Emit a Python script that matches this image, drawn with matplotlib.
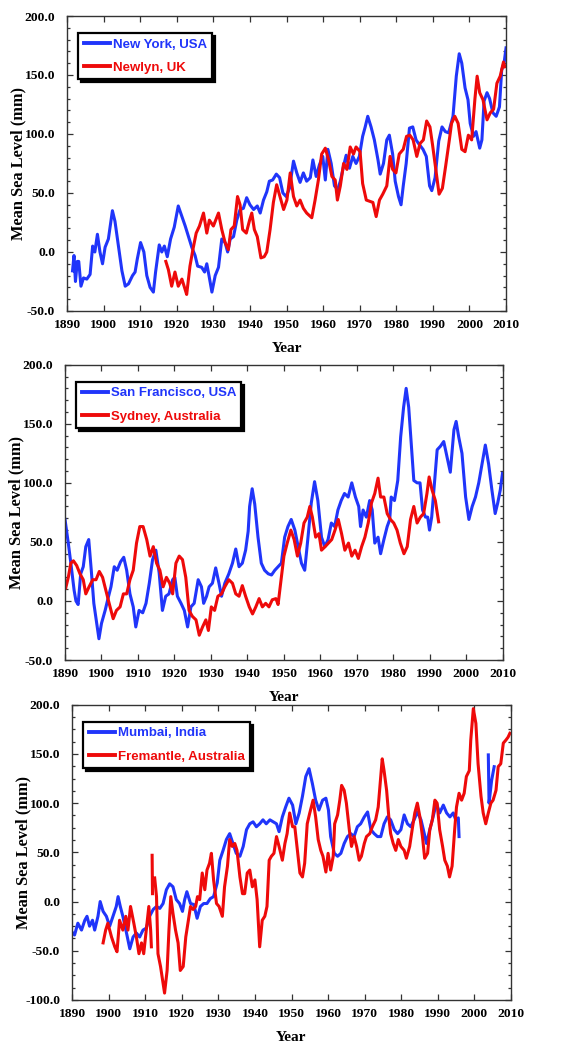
import numpy as np
import matplotlib
matplotlib.use("Agg")
import matplotlib.pyplot as plt
from matplotlib.ticker import MultipleLocator, FormatStrFormatter

BLUE = "#2035fa"
RED = "#ee0a0a"

# --- New York, USA / Newlyn, UK ---
ny_years = [1891.5, 1891.9, 1892.3, 1892.8, 1893.2, 1893.8, 1894.5, 1895.4, 1896.3, 1897.0,
            1897.6, 1898.3, 1899.0, 1899.7, 1900.4, 1901.3, 1902.4, 1903.1, 1904.0, 1905.0,
            1905.9, 1906.8, 1907.9, 1908.6, 1909.2, 1910.1, 1911.0, 1911.8, 1912.7, 1913.6,
            1914.2, 1915.2, 1915.9, 1916.6, 1917.4, 1918.3, 1919.3, 1920.4, 1921.4, 1922.3,
            1923.2, 1924.1, 1925.0, 1925.7, 1926.8, 1927.6, 1928.2, 1928.8, 1929.6, 1930.5,
            1931.4, 1932.3, 1933.2, 1933.9, 1934.6, 1935.5, 1936.4, 1937.3, 1938.2, 1939.1,
            1940.0, 1941.0, 1942.0, 1942.8, 1943.7, 1944.6, 1945.3, 1946.2, 1947.2, 1948.1,
            1949.0, 1949.9, 1950.8, 1951.9, 1952.8, 1953.7, 1954.6, 1955.5, 1956.5, 1957.2,
            1958.1, 1959.0, 1959.9, 1960.6, 1961.3, 1962.2, 1963.1, 1964.0, 1964.7, 1965.6,
            1966.3, 1967.2, 1968.1, 1969.0, 1969.9, 1970.8, 1971.5, 1972.2, 1973.1, 1974.0,
            1975.0, 1975.6, 1976.5, 1977.4, 1978.1, 1979.0, 1979.7, 1980.6, 1981.3, 1981.9,
            1982.7, 1983.6, 1984.5, 1985.4, 1986.3, 1987.3, 1988.2, 1989.1, 1989.7, 1990.6,
            1991.6, 1992.5, 1993.4, 1994.3, 1995.5, 1996.4, 1997.2, 1997.9, 1998.8, 1999.6,
            2000.2, 2001.1, 2001.8, 2002.8, 2003.4, 2004.0, 2004.8, 2005.5, 2006.4, 2007.3,
            2008.2, 2008.8, 2009.5, 2010.0]
ny_mm = [-16, -3, -25, -8, -8, -29, -22, -23, -19, 5,
         0, 15, 0, -10, 4, 11, 35, 26, 6, -16,
         -29, -27, -20, -17, -6, 8, 0, -20, -30, -34,
         -17, 6, 0, 5, -4, 11, 21, 39, 30, 22,
         13, 4, -3, -12, -13, -17, -10, -20, -34, -20,
         -13, 11, 8, 0, 11, 13, 27, 36, 37, 46,
         40, 36, 39, 33, 44, 51, 60, 61, 66, 63,
         50, 47, 54, 77, 67, 59, 67, 60, 63, 78,
         64, 74, 81, 61, 87, 75, 56, 53, 60, 73,
         82, 71, 81, 75, 81, 98, 106, 115, 106, 95,
         78, 66, 75, 95, 99, 83, 60, 47, 40, 56,
         75, 105, 106, 95, 91, 87, 81, 56, 52, 63,
         94, 106, 102, 101, 115, 149, 168, 160, 139, 129,
         109, 98, 102, 88, 95, 128, 135, 130, 118, 115,
         123, 154, 161, 173]

newlyn_years = [1917.0, 1917.7, 1918.6, 1919.5, 1920.4, 1921.4, 1922.3, 1922.7, 1923.6, 1924.4,
                1925.3, 1926.2, 1927.3, 1928.2, 1928.9, 1930.0, 1931.4, 1932.3, 1933.2, 1934.1,
                1934.8, 1935.7, 1936.6, 1937.3, 1938.0, 1939.0, 1939.9, 1940.5, 1941.2, 1942.0,
                1943.0, 1943.9, 1944.6, 1945.5, 1946.4, 1947.3, 1948.2, 1949.2, 1950.1, 1951.0,
                1951.9, 1952.8, 1953.7, 1954.6, 1955.5, 1956.9, 1957.8, 1958.7, 1959.6, 1960.6,
                1961.5, 1962.4, 1963.3, 1963.9, 1964.7, 1965.6, 1966.5, 1967.4, 1968.3, 1969.0,
                1970.1, 1970.8, 1971.8, 1972.7, 1973.6, 1974.5, 1975.4, 1976.3, 1977.4, 1978.3,
                1979.0, 1979.9, 1980.8, 1981.9, 1982.8, 1983.7, 1984.6, 1985.6, 1986.5, 1987.4,
                1988.3, 1989.2, 1989.9, 1990.8, 1991.7, 1992.6, 1993.5, 1994.5, 1995.1, 1996.0,
                1996.9, 1997.9, 1998.8, 1999.7, 2000.6, 2001.5, 2002.1, 2002.8, 2003.7, 2004.8,
                2005.7, 2006.6, 2007.5, 2008.4, 2009.3, 2009.7]
newlyn_mm = [-8, -15, -29, -17, -29, -23, -32, -36, -12, 2,
             16, 22, 33, 16, 27, 22, 33, 19, 8, 2,
             19, 22, 47, 40, 19, 16, 27, 33, 19, 13,
             -5, -4, 0, 19, 42, 57, 47, 36, 44, 67,
             47, 39, 44, 37, 33, 29, 44, 61, 83, 88,
             78, 64, 61, 44, 56, 75, 70, 89, 83, 89,
             85, 58, 44, 43, 42, 30, 44, 49, 56, 81,
             70, 67, 83, 87, 98, 99, 95, 81, 92, 95,
             111, 106, 91, 70, 49, 54, 73, 95, 109, 115,
             109, 87, 85, 99, 95, 130, 149, 135, 129, 112,
             118, 121, 143, 149, 161, 157]

# --- San Francisco, USA / Sydney, Australia ---
sf_years = [1890.0, 1890.9, 1891.6, 1892.5, 1893.0, 1893.6, 1894.3, 1895.0, 1895.7, 1896.5,
            1897.2, 1897.9, 1898.7, 1899.3, 1900.0, 1901.0, 1901.7, 1902.6, 1903.5, 1904.3,
            1905.2, 1906.1, 1906.9, 1907.8, 1908.7, 1909.4, 1910.3, 1911.3, 1912.2, 1913.1,
            1914.0, 1914.9, 1915.8, 1916.7, 1917.6, 1918.5, 1919.5, 1920.1, 1920.8, 1921.8,
            1922.7, 1923.6, 1924.5, 1925.4, 1926.5, 1927.4, 1928.0, 1928.8, 1929.5, 1930.4,
            1931.3, 1932.2, 1932.9, 1933.8, 1934.9, 1935.9, 1936.8, 1937.7, 1938.6, 1939.5,
            1940.2, 1940.6, 1941.3, 1942.0, 1942.9, 1943.8, 1944.7, 1945.7, 1946.6, 1947.5,
            1948.4, 1949.3, 1950.2, 1951.1, 1952.0, 1953.0, 1953.9, 1954.8, 1955.7, 1956.6,
            1957.5, 1958.4, 1959.3, 1960.3, 1961.2, 1962.1, 1963.0, 1963.9, 1964.8, 1965.7,
            1966.6, 1967.6, 1968.6, 1969.6, 1970.5, 1971.0, 1971.7, 1972.6, 1973.5, 1974.2,
            1974.9, 1975.8, 1976.5, 1977.4, 1978.3, 1979.0, 1979.4, 1980.3, 1981.2, 1982.0,
            1982.8, 1983.5, 1984.2, 1984.9, 1985.6, 1986.5, 1987.3, 1988.0, 1988.8, 1989.4,
            1989.9, 1990.5, 1991.1, 1992.0, 1992.9, 1993.8, 1994.7, 1995.6, 1996.6, 1997.2,
            1997.9, 1998.8, 1999.8, 2000.7, 2001.6, 2002.5, 2003.4, 2004.3, 2005.2, 2006.1,
            2007.0, 2007.9, 2008.6, 2009.3, 2009.9]
sf_mm = [69, 49, 32, 9, 0, -3, 23, 29, 46, 52,
         26, -2, -19, -32, -19, -8, 1, 12, 29, 26,
         33, 37, 26, 6, -5, -22, -8, -10, -2, 15,
         35, 43, 24, -8, 4, 6, 18, 20, 4, -2,
         -8, -22, -5, -2, 18, 12, -2, 4, 12, 15,
         28, 15, 4, 15, 23, 32, 44, 29, 32, 43,
         59, 80, 95, 82, 54, 32, 26, 23, 22, 26,
         29, 32, 54, 63, 69, 60, 46, 32, 26, 54,
         83, 101, 85, 54, 46, 52, 66, 63, 77, 85,
         91, 88, 100, 88, 80, 63, 77, 71, 85, 77,
         49, 54, 40, 52, 63, 69, 88, 85, 102, 139,
         164, 180, 164, 133, 102, 100, 100, 77, 71, 71,
         60, 71, 94, 128, 131, 135, 122, 109, 145, 152,
         139, 125, 88, 69, 80, 88, 100, 116, 132, 116,
         94, 74, 83, 94, 108]

syd_years = [1890.2, 1890.9, 1891.6, 1892.3, 1893.2, 1894.1, 1895.0, 1895.7, 1896.6, 1897.6,
             1898.5, 1899.4, 1900.3, 1901.2, 1902.1, 1903.2, 1904.1, 1905.1, 1906.0, 1906.9,
             1907.8, 1908.7, 1909.6, 1910.5, 1911.4, 1912.4, 1913.3, 1914.2, 1915.1, 1916.0,
             1916.9, 1917.8, 1918.7, 1919.5, 1920.4, 1921.3, 1922.2, 1923.1, 1924.0, 1924.9,
             1925.9, 1926.8, 1927.7, 1928.6, 1929.3, 1930.1, 1931.0, 1931.9, 1932.9, 1933.8,
             1934.9, 1935.9, 1936.8, 1937.7, 1938.6, 1939.5, 1940.5, 1941.4, 1942.3, 1943.2,
             1944.1, 1945.0, 1945.9, 1946.8, 1947.8, 1948.4, 1949.1, 1950.0, 1950.9, 1951.9,
             1952.8, 1953.7, 1954.6, 1955.5, 1956.4, 1957.1, 1957.8, 1958.7, 1959.6, 1960.3,
             1961.3, 1962.2, 1963.1, 1964.0, 1964.9, 1965.8, 1966.7, 1967.7, 1968.6, 1969.5,
             1970.4, 1971.3, 1972.2, 1973.1, 1974.0, 1974.9, 1975.8, 1976.5, 1977.4, 1978.3,
             1979.2, 1980.1, 1981.0, 1981.9, 1982.9, 1983.8, 1984.7, 1985.6, 1986.5, 1987.4,
             1988.3, 1989.2, 1989.8, 1990.6, 1991.5, 1992.4]
syd_mm = [11, 20, 32, 34, 30, 23, 18, 6, 12, 18,
          18, 25, 20, 9, -2, -15, -8, -5, 6, 6,
          18, 26, 49, 63, 63, 52, 38, 46, 32, 26,
          12, 20, 15, 6, 32, 38, 35, 20, -8, -13,
          -16, -29, -22, -16, -25, -5, -8, 4, 6, 12,
          18, 15, 6, 4, 13, 4, -5, -11, -5, 2,
          -5, -2, -5, 1, 2, -3, 15, 38, 49, 60,
          52, 38, 49, 66, 71, 80, 71, 54, 57, 43,
          46, 49, 52, 60, 69, 57, 43, 49, 38, 43,
          36, 46, 54, 66, 83, 91, 104, 88, 88, 74,
          69, 66, 60, 49, 40, 46, 69, 80, 66, 71,
          74, 91, 105, 94, 85, 67]

# --- Mumbai, India / Fremantle, Australia ---
mum_years = [1890.0, 1890.7, 1891.6, 1892.6, 1893.5, 1894.1, 1894.8, 1895.6, 1896.2, 1897.1,
             1897.7, 1898.5, 1899.4, 1900.3, 1901.2, 1902.1, 1902.6, 1903.2, 1903.9, 1904.9,
             1905.8, 1906.7, 1907.6, 1908.5, 1909.4, 1910.3, 1911.2, 1912.2, 1913.1, 1914.0,
             1914.9, 1915.8, 1916.7, 1917.6, 1918.5, 1919.4, 1920.2, 1920.8, 1921.4, 1922.4,
             1923.3, 1924.2, 1925.1, 1926.0, 1926.9, 1927.8, 1928.7, 1929.7, 1930.4, 1931.3,
             1932.2, 1933.1, 1934.0, 1934.9, 1935.9, 1936.8, 1937.7, 1938.6, 1939.5, 1940.4,
             1941.3, 1942.2, 1943.1, 1944.1, 1945.0, 1945.9, 1946.6, 1947.5, 1948.4, 1949.3,
             1950.3, 1951.2, 1952.1, 1953.0, 1953.9, 1954.8, 1955.7, 1956.6, 1957.5, 1958.5,
             1959.4, 1960.1, 1960.7, 1961.7, 1962.6, 1963.5, 1964.4, 1965.3, 1966.2, 1967.1,
             1968.0, 1968.9, 1969.9, 1970.8, 1971.7, 1972.6, 1973.5, 1974.4, 1975.3, 1976.2,
             1977.1, 1978.1, 1979.0, 1979.9, 1980.8, 1981.7, 1982.6, 1983.5, 1984.4, 1985.4,
             1986.3, 1986.9, 1987.8, 1988.7, 1989.6, 1990.5, 1991.5, 1992.4, 1993.3, 1994.2,
             1994.9, 1995.6, 1995.8, 1999.8, 2003.8, 2004.0, 2004.7, 2005.4]
mum_mm = [-31, -34, -22, -29, -19, -15, -25, -19, -29, -15,
          0, -10, -15, -25, -15, -5, 5, -5, -15, -32,
          -48, -36, -32, -36, -29, -27, -15, -8, -5, -7,
          -2, 12, 18, 15, 2, -2, -10, 2, 10, -2,
          -3, -17, -5, -2, -2, 3, 5, 19, 42, 52,
          63, 69, 59, 49, 46, 56, 73, 79, 81, 76,
          79, 83, 79, 83, 81, 79, 71, 86, 96, 105,
          98, 79, 90, 107, 127, 135, 120, 103, 93, 103,
          105, 93, 66, 49, 46, 49, 59, 66, 69, 66,
          76, 79, 86, 91, 73, 69, 66, 66, 79, 86,
          83, 73, 69, 73, 88, 79, 76, 83, 91, 83,
          69, 59, 73, 86, 100, 90, 98, 90, 86, 90,
          83, 85, 66, np.nan, 149, 100, 123, 137]

fre_years = [1898.5, 1899.2, 1899.8, 1900.8, 1901.7, 1902.3, 1903.0, 1903.9, 1904.7, 1905.3,
             1906.0, 1906.9, 1907.6, 1908.3, 1909.0, 1909.6, 1910.3, 1911.0, 1911.5, 1911.7,
             1911.85, 1911.9, 1912.0, 1912.3, 1912.6, 1913.1, 1913.5, 1914.2, 1914.9, 1915.3,
             1916.0, 1916.5, 1917.0, 1917.6, 1918.3, 1919.0, 1919.6, 1920.4, 1921.1, 1921.7,
             1922.4, 1923.1, 1923.8, 1924.3, 1924.9, 1925.6, 1926.3, 1926.9, 1927.6, 1928.1,
             1928.7, 1929.5, 1930.2, 1931.1, 1931.7, 1932.5, 1933.1, 1933.8, 1934.5, 1935.1,
             1935.9, 1936.6, 1937.2, 1937.9, 1938.6, 1939.3, 1940.0, 1940.6, 1941.3, 1942.0,
             1942.7, 1943.3, 1943.9, 1944.5, 1945.2, 1945.9, 1946.6, 1947.5, 1948.2, 1948.8,
             1949.5, 1950.3, 1950.9, 1951.6, 1952.3, 1953.0, 1953.6, 1954.3, 1955.0, 1955.9,
             1956.6, 1957.3, 1958.0, 1958.6, 1959.4, 1960.0, 1960.7, 1961.4, 1961.8, 1962.6,
             1963.2, 1963.7, 1964.4, 1965.0, 1965.8, 1966.4, 1967.1, 1967.8, 1968.5, 1969.1,
             1969.9, 1970.5, 1971.4, 1972.1, 1973.0, 1973.7, 1974.3, 1974.8, 1975.3, 1976.0,
             1976.6, 1977.1, 1977.8, 1978.5, 1979.2, 1979.9, 1980.8, 1981.4, 1982.3, 1983.1,
             1983.7, 1984.4, 1985.1, 1985.8, 1986.4, 1987.2, 1987.8, 1988.5, 1989.2, 1989.8,
             1990.5, 1991.3, 1991.9, 1992.6, 1993.2, 1993.9, 1994.6, 1995.1, 1995.8, 1996.5,
             1997.2, 1997.8, 1998.6, 1999.0, 1999.7, 2000.4, 2001.0, 2001.8, 2002.4, 2003.1,
             2003.8, 2004.5, 2005.1, 2005.9, 2006.5, 2007.2, 2007.9, 2008.6, 2009.2, 2009.7]
fre_mm = [-42, -29, -22, -36, -46, -51, -19, -29, -15, -29,
          -5, -22, -36, -53, -42, -53, -29, -5, -29, -46,
          np.nan, 47, 8, np.nan, 24, 5, -53, -66, -83, -93,
          -70, -29, 5, -12, -29, -42, -70, -66, -36, -22,
          -5, -8, -5, 5, 2, 29, 12, 32, 39, 49,
          22, -2, -5, -15, 15, 36, 63, 56, 59, 52,
          25, 8, 8, 29, 32, 15, 22, 2, -46, -19,
          -15, -5, 42, 46, 49, 66, 56, 42, 59, 69,
          90, 76, 76, 52, 29, 25, 39, 79, 90, 103,
          86, 63, 52, 46, 30, 49, 32, 46, 79, 88,
          103, 118, 113, 100, 73, 56, 66, 56, 42, 46,
          59, 66, 69, 76, 83, 96, 123, 145, 133, 113,
          86, 69, 59, 52, 63, 56, 52, 44, 56, 76,
          90, 100, 86, 66, 44, 49, 73, 83, 103, 100,
          73, 56, 42, 36, 25, 36, 73, 96, 110, 103,
          110, 127, 133, 164, 196, 181, 140, 107, 90, 79,
          90, 100, 103, 113, 137, 140, 161, 164, 167, 171]

panels = [
    dict(rect=[0.115, 0.7027, 0.753, 0.282], ylim=(-50, 200), minor=10,
         series=[(ny_years, ny_mm, BLUE, "New York, USA"),
                 (newlyn_years, newlyn_mm, RED, "Newlyn, UK")]),
    dict(rect=[0.1115, 0.369, 0.751, 0.2823], ylim=(-50, 200), minor=10,
         series=[(sf_years, sf_mm, BLUE, "San Francisco, USA"),
                 (syd_years, syd_mm, RED, "Sydney, Australia")]),
    dict(rect=[0.1235, 0.044, 0.753, 0.2823], ylim=(-100, 200), minor=12.5,
         series=[(mum_years, mum_mm, BLUE, "Mumbai, India"),
                 (fre_years, fre_mm, RED, "Fremantle, Australia")]),
]

serif = "Liberation Serif"
sans = "Liberation Sans"

fig = plt.figure(figsize=(5.83, 10.46), dpi=100)

for p in panels:
    ax = fig.add_axes(p["rect"])
    for yrs, vals, col, lab in p["series"]:
        ax.plot(yrs, vals, color=col, lw=2.2, label=lab, solid_joinstyle="round")
    ax.set_xlim(1890, 2010)
    ax.set_ylim(*p["ylim"])
    ax.xaxis.set_major_locator(MultipleLocator(10))
    ax.yaxis.set_major_locator(MultipleLocator(50))
    ax.yaxis.set_minor_locator(MultipleLocator(p["minor"]))
    ax.yaxis.set_major_formatter(FormatStrFormatter("%.1f"))
    ax.tick_params(which="both", direction="in", top=True, right=True,
                   color="#333333", width=0.9)
    ax.tick_params(which="major", length=4)
    ax.tick_params(which="minor", length=2.5)
    ax.tick_params(axis="x", which="major", pad=5.5)
    ax.tick_params(axis="y", which="major", pad=8.5)
    for s in ax.spines.values():
        s.set_linewidth(1.0)
        s.set_color("#333333")
    for t in ax.get_xticklabels() + ax.get_yticklabels():
        t.set_fontfamily(serif)
        t.set_fontweight("bold")
        t.set_fontsize(9.7)
    ax.set_xlabel("Year", fontfamily=serif, fontweight="bold", fontsize=11)
    ax.xaxis.set_label_coords(0.5, -0.105)
    ax.set_ylabel("Mean Sea Level (mm)", fontfamily=serif, fontweight="bold",
                  fontsize=11.8)
    ax.yaxis.set_label_coords(-0.092, 0.5)
    leg = ax.legend(loc="upper left", bbox_to_anchor=(0.026, 0.942),
                    borderaxespad=0, fancybox=False,
                    shadow={"color": "black", "alpha": 1.0},
                    prop={"family": sans, "weight": "bold", "size": 9.5},
                    labelcolor="linecolor", handlelength=2.0,
                    handletextpad=0.2, labelspacing=0.85, borderpad=0.4,
                    framealpha=1)
    leg.get_frame().set_edgecolor("black")
    leg.get_frame().set_linewidth(1.6)
    for h in leg.get_lines():
        h.set_linewidth(2.8)

fig.savefig("out.png", dpi=100)
